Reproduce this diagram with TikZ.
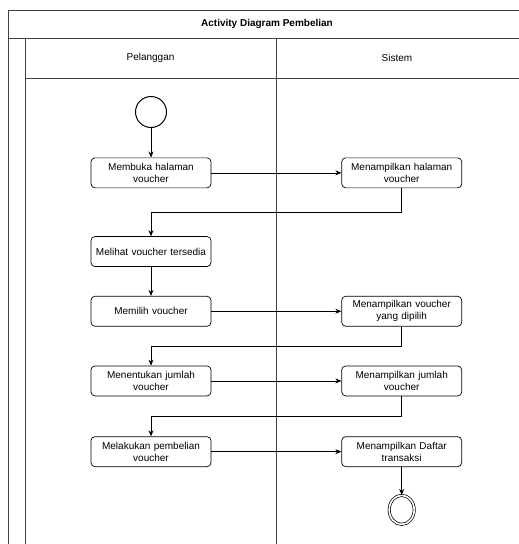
\documentclass[tikz,border=0pt]{standalone}
\usepackage{fontspec}
\setmainfont{Liberation Sans}
\usepackage{xcolor}
\usepackage{tikz}
\usetikzlibrary{shapes.geometric, arrows.meta, positioning, calc}
\tikzset{
  action/.style={rectangle, draw, rounded corners=4pt, line width=0.7pt,
                 minimum width=120pt, text width=112pt, align=center,
                 minimum height=30pt, inner sep=1pt, font=\fontsize{10}{12}\selectfont},
  lane/.style={draw=black!75, line width=0.8pt},
  lanelabel/.style={font=\fontsize{10}{12}\selectfont},
  startnode/.style={circle, draw, line width=1pt, minimum size=31pt, inner sep=0pt},
  stopnode/.style={ellipse, draw, line width=0.7pt, double, double distance=1.6pt,
                   minimum width=25pt, minimum height=29pt, inner sep=0pt},
  arrow/.style={-{Stealth[length=6pt,width=5pt]}, line width=0.7pt}
}
\begin{document}
\begin{tikzpicture}[x=1pt, y=1pt]
  \useasboundingbox (0,0) rectangle (519,-544);

  % Swimlane frame
  \draw[lane] (8,-544) -- (8,-10) -- (519,-10);
  \draw[lane] (8,-38) -- (519,-38);
  \draw[lane] (25,-544) -- (25,-38);
  \draw[lane] (25,-78) -- (519,-78);
  \draw[lane] (276,-38) -- (276,-544);
  \node[font=\bfseries\fontsize{10}{12}\selectfont] (title) at (267,-24) {Activity Diagram Pembelian};
  \node[lanelabel] (lp) at (150.5,-58) {Pelanggan};
  \node[lanelabel] (ls) at (397,-58) {Sistem};

  % Pelanggan
  \node[startnode] (start) at (151,-112) {};
  \node[action, below=29.5pt of start] (p1) {Membuka halaman\\voucher};
  \node[action, below=48pt of p1] (p2) {Melihat voucher tersedia};
  \node[action, below=29pt of p2] (p3) {Memilih voucher};
  \node[action, below=39pt of p3] (p4) {Menentukan jumlah\\voucher};
  \node[action, below=40pt of p4] (p5) {Melakukan pembelian\\voucher};

  % Sistem
  \node[action, right=130pt of p1] (s1) {Menampilkan halaman\\voucher};
  \node[action, right=130pt of p3] (s2) {Menampilkan voucher\\yang dipilih};
  \node[action, right=130pt of p4] (s3) {Menampilkan jumlah\\voucher};
  \node[action, right=130pt of p5] (s4) {Menampilkan Daftar\\transaksi};
  \node[stopnode, below=28pt of s4] (stop) {};

  % Arrows pelanggan -> sistem
  \draw[arrow] (start) -- (p1);
  \draw[arrow] (p1) -- (s1);
  \draw[arrow] (p2) -- (p3);
  \draw[arrow] (p3) -- (s2);
  \draw[arrow] (p4) -- (s3);
  \draw[arrow] (p5) -- (s4);

  % Arrows sistem -> pelanggan
  \draw[arrow] (s1.south) |- ($(p1.south)!0.5!(p2.north)$) -| (p2.north);
  \draw[arrow] (s2.south) |- ($(p3.south)!0.5!(p4.north)$) -| (p4.north);
  \draw[arrow] (s3.south) |- ($(p4.south)!0.5!(p5.north)$) -| (p5.north);
  \draw[arrow] (s4) -- (stop);
\end{tikzpicture}
\end{document}
